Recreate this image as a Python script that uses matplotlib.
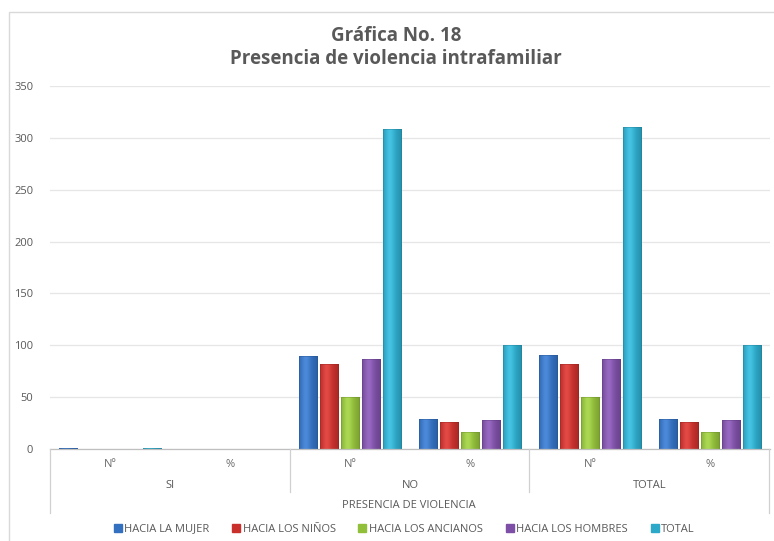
import numpy as np
import matplotlib.pyplot as plt
from matplotlib.lines import Line2D
from matplotlib.patches import Rectangle
from matplotlib.colors import to_rgb

plt.rcParams['font.family'] = ['Open Sans', 'DejaVu Sans']

# Datos: presencia de violencia intrafamiliar
categorias = ['Nº', '%', 'Nº', '%', 'Nº', '%']
grupos = ['SI', 'NO', 'TOTAL']
series = ['HACIA LA MUJER', 'HACIA LOS NIÑOS', 'HACIA LOS ANCIANOS',
          'HACIA LOS HOMBRES', 'TOTAL']

mujer = [1, 0, 90, 29, 91, 29]
ninos = [0, 0, 82, 26.5, 82, 26.5]
ancianos = [0, 0, 50, 16, 50, 16]
hombres = [0, 0, 87, 28, 87, 28]
total = [1, 0, 309, 100, 310, 100]

colores = ['#3370C0', '#C9302C', '#92BF3A', '#7D4FA6', '#2CA9C9']

W, H = 774, 541
fig = plt.figure(figsize=(W / 100, H / 100), dpi=100)


def fx(px):
    return px / W


def fy(py):
    return 1 - py / H


# marco exterior del gráfico
fig.add_artist(Rectangle((fx(9), fy(560)), fx(800), fy(12) - fy(560),
                         transform=fig.transFigure, fill=False,
                         edgecolor='#D9D9D9', linewidth=1))

ax = fig.add_axes([fx(50), fy(449), fx(770) - fx(50), fy(86) - fy(449)])

x = np.arange(len(categorias))
paso = 0.175
ancho = 0.155


def barra_degradado(ax, x0, w, h, color):
    # barra con brillo suave para dar volumen
    if h <= 0:
        return
    r, g, b = to_rgb(color)
    t = np.linspace(0, 1, 40)
    luz = 1 - 0.35 * np.abs(t - 0.4) ** 1.6
    claro = 0.10 * np.exp(-((t - 0.35) / 0.25) ** 2)
    fila = np.stack([np.clip(c * luz + claro, 0, 1) for c in (r, g, b)], axis=-1)
    img = np.tile(fila[None, :, :], (2, 1, 1))
    rect = Rectangle((x0, 0), w, h, facecolor='none', edgecolor='none')
    ax.add_patch(rect)
    im = ax.imshow(img, extent=(x0, x0 + w, 0, h), aspect='auto',
                   interpolation='bilinear', zorder=2)
    im.set_clip_path(rect)
    ax.add_patch(Rectangle((x0, 0), w, h, facecolor='none',
                           edgecolor=(r * 0.7, g * 0.7, b * 0.7, 0.5),
                           linewidth=0.5, zorder=3))


valores = [mujer, ninos, ancianos, hombres, total]
for j, (vals, col) in enumerate(zip(valores, colores)):
    for i, v in enumerate(vals):
        x0 = x[i] + (j - 2) * paso - ancho / 2
        barra_degradado(ax, x0, ancho, v, col)

ax.set_xlim(-0.5, len(categorias) - 0.5)
ax.set_ylim(0, 350)
ax.set_yticks(np.arange(0, 351, 50))
ax.yaxis.grid(True, color='#E6E6E6', linewidth=0.9)
ax.set_axisbelow(True)
ax.set_xticks([])
ax.tick_params(axis='y', length=0, pad=12, labelsize=8, labelcolor='#595959')
for s in ['top', 'right', 'left']:
    ax.spines[s].set_visible(False)
ax.spines['bottom'].set_color('#BFBFBF')
ax.spines['bottom'].set_linewidth(0.9)

# ejes de categorías en varios niveles
for i, c in enumerate(categorias):
    ax.annotate(c, (x[i], 0), xycoords=('data', 'axes fraction'),
                xytext=(0, -11), textcoords='offset points', ha='center',
                va='center', fontsize=8, color='#6B6B6B')
for g, nombre in enumerate(grupos):
    ax.annotate(nombre, (2 * g + 0.5, 0), xycoords=('data', 'axes fraction'),
                xytext=(0, -26), textcoords='offset points', ha='center',
                va='center', fontsize=8, color='#595959')
fig.text(fx(409), fy(506), 'PRESENCIA DE VIOLENCIA', ha='center', va='center',
         fontsize=8, color='#595959')

linea = dict(transform=fig.transFigure, color='#D0D0D0', linewidth=0.9)
fig.add_artist(Line2D([fx(50), fx(50)], [fy(449), fy(513)], **linea))
fig.add_artist(Line2D([fx(769), fx(769)], [fy(449), fy(513)], **linea))
fig.add_artist(Line2D([fx(290), fx(290)], [fy(449), fy(492)], **linea))
fig.add_artist(Line2D([fx(529), fx(529)], [fy(449), fy(492)], **linea))

# títulos
fig.text(fx(396), fy(36), 'Gráfica No. 18', ha='center', va='center',
         fontsize=13.5, fontweight='bold', color='#595959')
fig.text(fx(396), fy(59), 'Presencia de violencia intrafamiliar', ha='center',
         va='center', fontsize=13.5, fontweight='bold', color='#595959')

# leyenda
manijas = [Line2D([], [], marker='s', linestyle='none', markersize=6,
                  markerfacecolor=c, markeredgecolor=c) for c in colores]
fig.legend(manijas, series, loc='center', bbox_to_anchor=(fx(404), fy(529)),
           ncol=5, frameon=False, fontsize=8, handlelength=0.8,
           handletextpad=0.2, columnspacing=2.0, labelcolor='#595959')

fig.savefig('out.png', dpi=100)
